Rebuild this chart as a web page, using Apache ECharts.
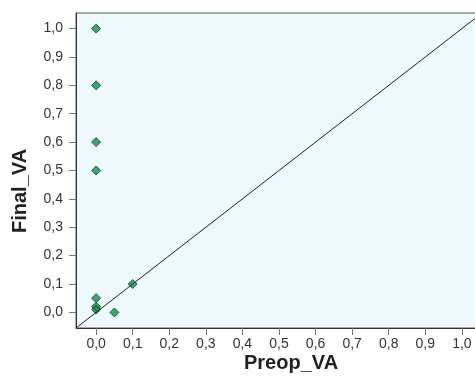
<!DOCTYPE html>
<html><head><meta charset="utf-8">
<script src="https://cdn.jsdelivr.net/npm/echarts@6/dist/echarts.min.js"></script>
<style>html,body{margin:0;padding:0;background:#fff}#c{width:475px;height:377px}</style>
</head><body><div id="c"></div>
<script>
const preopVA = [0, 0, 0, 0, 0, 0, 0, 0.05, 0.1];
const finalVA = [1.0, 0.8, 0.6, 0.5, 0.05, 0.02, 0.01, 0.0, 0.1];
const tickValues = [0, 0.1, 0.2, 0.3, 0.4, 0.5, 0.6, 0.7, 0.8, 0.9, 1.0];
const axisMin = -0.055, axisMax = 1.055;
const refLine = [[axisMin, axisMin], [axisMax, axisMax]];

const fmt = v => v.toFixed(1).replace('.', ',');
const chart = echarts.init(document.getElementById('c'));
const axisCommon = {
  type: 'value', min: axisMin, max: axisMax,
  splitLine: { show: false },
  axisLine: { show: true, onZero: false, lineStyle: { color: '#333', width: 1 } },
  axisTick: { show: true, customValues: tickValues, length: 7, lineStyle: { color: '#777' } },
  axisLabel: { customValues: tickValues, formatter: fmt, color: '#333', fontSize: 14, fontFamily: 'Liberation Sans' }
};
chart.setOption({
  animation: false,
  grid: { left: 76, top: 13, right: -7, bottom: 49, outerBoundsMode: 'none', containLabel: false,
          show: true, backgroundColor: '#eef8fd', borderColor: '#555', borderWidth: 1 },
  xAxis: Object.assign({}, axisCommon, { axisLabel: Object.assign({}, axisCommon.axisLabel, { margin: 9 }) }),
  yAxis: Object.assign({}, axisCommon, { axisLabel: Object.assign({}, axisCommon.axisLabel, { margin: 13 }) }),
  graphic: [
    { type: 'text', left: 244, top: 353, style: { text: 'Preop_VA', font: 'bold 20px "Liberation Sans"', fill: '#222' } },
    { type: 'text', x: 10, y: 233, rotation: Math.PI / 2, style: { text: 'Final_VA', font: 'bold 20px "Liberation Sans"', fill: '#222' } }
  ],
  series: [
    { type: 'line', data: refLine, symbol: 'none', lineStyle: { color: '#222', width: 1 }, silent: true },
    { type: 'scatter', data: preopVA.map((x, i) => [x, finalVA[i]]), symbol: 'diamond', symbolSize: 9,
      itemStyle: { color: '#009944', borderColor: '#1a3a22', borderWidth: 1 } }
  ]
});
</script></body></html>
